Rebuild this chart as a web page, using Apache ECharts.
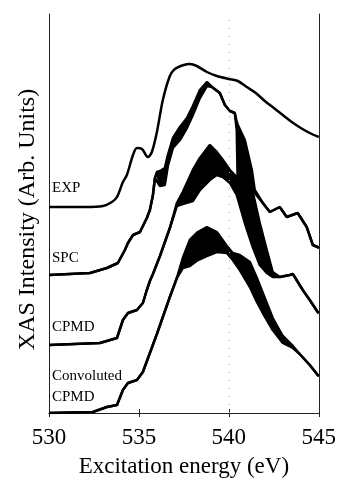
<!DOCTYPE html>
<html>
<head>
<meta charset="utf-8">
<script src="https://cdn.jsdelivr.net/npm/echarts@6/dist/echarts.min.js"></script>
<style>
  html, body { margin: 0; padding: 0; background: #fff; }
  #chart { width: 339px; height: 485px; }
</style>
</head>
<body>
<div id="chart"></div>
<script>
// energies in eV, intensities in arbitrary units above each curve's own baseline
var expE = [530, 532, 533, 533.5, 533.78, 534.11, 534.33, 534.67, 534.89, 535.17, 535.5, 535.72, 536, 536.33, 536.72, 537, 537.5, 537.83, 538.22, 538.78, 539.33, 540, 540.5, 541, 541.5, 542, 542.5, 543, 543.5, 544, 544.5, 545];
var expI = [0, 0, 1, 5, 10, 25, 32, 52, 59, 58, 50, 55, 75, 107, 131, 138, 142, 143, 141, 135, 131, 128, 126, 120, 114, 106, 99, 92, 85, 79, 74, 70];

var spcE = [530, 532.28, 533.22, 533.83, 534.22, 534.39, 534.67, 535.06, 535.44, 535.61, 535.78, 535.89, 536, 536.17, 536.44, 536.61, 536.89, 537.28, 537.67, 538, 538.39, 538.78, 539.06, 539.5, 539.78, 540.06, 540.33, 540.44, 540.5, 540.89, 541.28, 541.44, 541.89, 542.28, 542.83, 543.22, 543.83, 544.33, 544.67, 544.94, 545];
var spcUpper = [0, 2, 7, 12, 25, 32, 40, 43, 57, 65, 80, 97, 103, 104, 107, 120, 137, 148, 157, 169, 185, 193, 188, 182, 170, 164, 162, 153, 150, 135, 105, 85, 72, 63, 68, 58, 62, 48, 30, 28, 27];
var spcLower = [0, 2, 7, 12, 25, 32, 40, 43, 57, 65, 80, 97, 99, 89, 90, 109, 127, 135, 147, 160, 177, 189, 188, 182, 170, 164, 162, 145, 85, 80, 82, 82, 72, 63, 68, 58, 62, 48, 30, 28, 27];

var cpmdE = [530, 532.83, 533.78, 534.11, 534.39, 534.89, 535.22, 535.44, 535.61, 535.78, 536.17, 536.72, 537.11, 537.44, 538, 538.39, 538.94, 539.33, 539.67, 540.06, 540.44, 540.89, 541.33, 541.72, 542.11, 542.44, 542.83, 543.39, 543.56, 544.11, 544.5, 544.94, 545];
var cpmdUpper = [0, 2, 7, 25, 32, 35, 42, 55, 64, 71, 89, 117, 142, 153, 175, 187, 200, 193, 185, 175, 168, 160, 153, 122, 95, 73, 68, 70, 71, 55, 45, 33, 32];
var cpmdLower = [0, 2, 7, 25, 32, 35, 42, 55, 64, 71, 89, 117, 139, 141, 144, 155, 165, 170, 168, 162, 150, 122, 98, 80, 72, 68, 68, 70, 71, 55, 45, 33, 32];

var convE = [530, 532.44, 533.22, 533.78, 534.11, 534.39, 534.89, 535.22, 535.61, 536, 536.33, 536.72, 537.11, 537.44, 537.83, 538.28, 538.78, 539.33, 539.89, 540.22, 540.61, 541.17, 541.56, 541.89, 542.44, 543, 543.56, 543.94, 544.5, 544.94, 545];
var convUpper = [0, 1, 6, 8, 23, 30, 33, 41, 60, 79, 96, 116, 135, 155, 173, 181, 186, 181, 167, 160, 158, 151, 135, 120, 95, 77, 67, 59, 48, 38, 37];
var convLower = [0, 1, 6, 8, 23, 30, 33, 41, 60, 79, 96, 116, 135, 145, 147, 153, 157, 161, 160, 153, 143, 126, 111, 100, 83, 70, 65, 59, 48, 38, 37];

var xTicks = [530, 535, 540, 545];
var curveNames = ['EXP', 'SPC', 'CPMD', 'Convoluted\nCPMD'];

// vertical offsets of the stacked spectra
var offsetExp = 206, offsetSpc = 138, offsetCpmd = 68, offsetConv = 0;

var serif = "'Liberation Serif', 'Times New Roman', serif";

function pairs(xs, ys, off) {
    return xs.map(function (x, i) { return [x, ys[i] + off]; });
}

var lineStyle = { color: '#000', width: 2.5 };

function lineSeries(name, data, smooth) {
    return {
        name: name,
        type: 'line',
        showSymbol: false,
        smooth: smooth || false,
        z: 3,
        lineStyle: lineStyle,
        data: data
    };
}

// black spread band drawn as one polygon between the upper and lower traces
function bandSeries(name, xs, up, lo, off) {
    var rows = xs.map(function (x, i) { return [x, up[i] + off, lo[i] + off]; });
    return {
        name: name + ' band',
        type: 'custom',
        z: 2,
        silent: true,
        data: rows,
        encode: { x: 0, y: [1, 2] },
        renderItem: function (params, api) {
            if (params.dataIndex !== 0) return null;
            var pts = [];
            rows.forEach(function (r) { pts.push(api.coord([r[0], r[1]])); });
            for (var i = rows.length - 1; i >= 0; i--) pts.push(api.coord([rows[i][0], rows[i][2]]));
            return {
                type: 'polygon',
                shape: { points: pts },
                style: { fill: '#000', stroke: '#000', lineWidth: 1 }
            };
        }
    };
}

var series = [
    Object.assign(lineSeries('EXP', pairs(expE, expI, offsetExp), 0.3), {
        markLine: {
            silent: true,
            symbol: 'none',
            label: { show: false },
            lineStyle: { color: '#aaa', width: 1, type: [1, 7] },
            data: [{ xAxis: 540 }]
        }
    }),
    bandSeries('SPC', spcE, spcUpper, spcLower, offsetSpc),
    lineSeries('SPC upper', pairs(spcE, spcUpper, offsetSpc)),
    lineSeries('SPC lower', pairs(spcE, spcLower, offsetSpc)),
    bandSeries('CPMD', cpmdE, cpmdUpper, cpmdLower, offsetCpmd),
    lineSeries('CPMD upper', pairs(cpmdE, cpmdUpper, offsetCpmd)),
    lineSeries('CPMD lower', pairs(cpmdE, cpmdLower, offsetCpmd)),
    bandSeries('CONV', convE, convUpper, convLower, offsetConv),
    lineSeries('CONV upper', pairs(convE, convUpper, offsetConv)),
    lineSeries('CONV lower', pairs(convE, convLower, offsetConv))
];

var axisX = {
    type: 'value',
    min: 530,
    max: 545,
    interval: 5,
    axisLine: { show: true, lineStyle: { color: '#222', width: 1 } },
    axisTick: { show: true, inside: true, length: 4, lineStyle: { color: '#222' } },
    splitLine: { show: false }
};

var option = {
    backgroundColor: '#fff',
    animation: false,
    grid: { left: 49, right: 20, top: 14, bottom: 72 },
    xAxis: [
        Object.assign({}, axisX, {
            position: 'bottom',
            name: 'Excitation energy (eV)',
            nameLocation: 'middle',
            nameGap: 42,
            nameTextStyle: { fontFamily: serif, fontSize: 23, color: '#000' },
            axisLabel: {
                margin: 13,
                fontFamily: serif,
                fontSize: 23,
                color: '#000',
                formatter: function (v) { return xTicks.indexOf(v) >= 0 ? String(v) : ''; }
            }
        }),
        Object.assign({}, axisX, { position: 'top', axisLabel: { show: false } })
    ],
    yAxis: [
        {
            type: 'value',
            min: 0,
            max: 399,
            position: 'left',
            name: 'XAS Intensity (Arb. Units)',
            nameLocation: 'middle',
            nameGap: 9,
            nameTextStyle: { fontFamily: serif, fontSize: 24, color: '#000', padding: [0, 12, 0, 0] },
            axisLine: { show: true, lineStyle: { color: '#222', width: 1 } },
            axisTick: { show: false },
            axisLabel: { show: false },
            splitLine: { show: false }
        },
        {
            type: 'value',
            min: 0,
            max: 399,
            position: 'right',
            axisLine: { show: true, lineStyle: { color: '#222', width: 1 } },
            axisTick: { show: false },
            axisLabel: { show: false },
            splitLine: { show: false }
        }
    ],
    graphic: [
        { type: 'text', left: 52, top: 181, style: { text: curveNames[0], font: '15px ' + serif, fill: '#000' } },
        { type: 'text', left: 52, top: 251, style: { text: curveNames[1], font: '15px ' + serif, fill: '#000' } },
        { type: 'text', left: 52, top: 320, style: { text: curveNames[2], font: '15px ' + serif, fill: '#000' } },
        { type: 'text', left: 52, top: 366, style: { text: curveNames[3], font: '15px ' + serif, fill: '#000', lineHeight: 21 } }
    ],
    series: series
};

var chart = echarts.init(document.getElementById('chart'), null, { renderer: 'canvas' });
chart.setOption(option);
</script>
</body>
</html>
